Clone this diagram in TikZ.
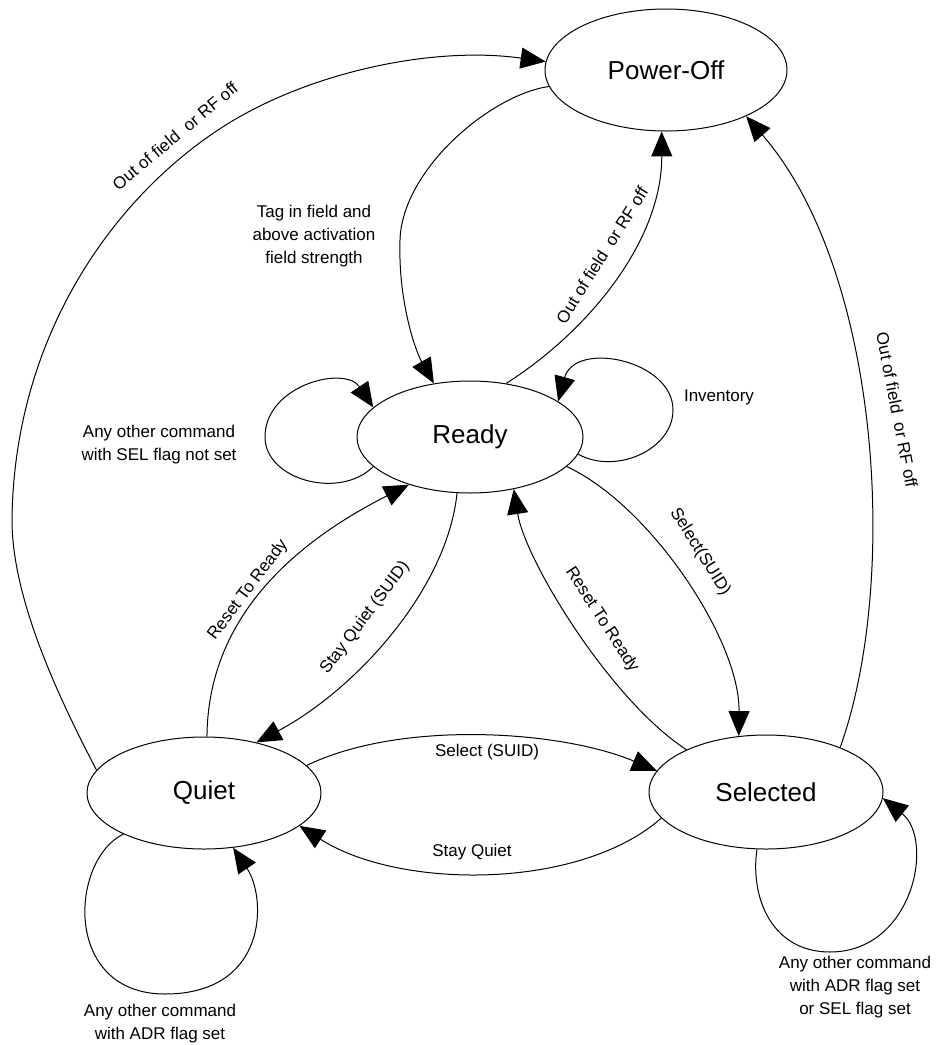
\documentclass[tikz,border=0pt]{standalone}
\usepackage{fontspec}
\setmainfont{Liberation Sans}
\usetikzlibrary{shapes.geometric,arrows.meta}
\begin{document}
\begin{tikzpicture}[x=1pt,y=-1pt,
  state/.style={draw,ellipse,line width=1pt,inner sep=0pt,font=\fontsize{26}{30}\selectfont},
  edge/.style={draw,line width=1pt,-{Triangle[length=25pt,width=21pt]}},
  lbl/.style={inner sep=0pt,align=center,font=\fontsize{17}{23}\selectfont}]
\useasboundingbox (0,0) rectangle (941,1045);

% states
\node[state,minimum width=242pt,minimum height=122pt] (poff) at (666,70) {Power-Off};
\node[state,minimum width=226pt,minimum height=112pt] (ready) at (470,437) {Ready};
\node[state,minimum width=234pt,minimum height=112pt] (quiet) at (204,793) {Quiet};
\node[state,minimum width=234pt,minimum height=114pt] (sel) at (766,792) {Selected};

% Quiet -> Power-Off (outer left arc)
\draw[edge] (quiet.168) .. controls (60,700) and (12,600) .. (12,520)
  .. controls (14,330) and (120,190) .. (229,123)
  .. controls (314,71) and (435,46) .. (poff.176);
% Power-Off -> Ready
\draw[edge] (poff.-172) .. controls (490,95) and (402,170) .. (400,240)
  .. controls (398,300) and (415,350) .. (ready.124);
% Ready -> Power-Off
\draw[edge] (ready.56) .. controls (590,330) and (662,240) .. (poff.-94);
% Ready self loops
\draw[edge] (ready.-9) .. controls (615,475) and (673,450) .. (673,410)
  .. controls (673,360) and (575,340) .. (ready.22);
\draw[edge] (ready.-163) .. controls (340,500) and (265,480) .. (265,437)
  .. controls (265,385) and (345,365) .. (ready.163);
% Quiet <-> Ready
\draw[edge] (quiet.87) .. controls (208,620) and (290,545) .. (ready.-142);
\draw[edge] (ready.-103) .. controls (447,590) and (355,690) .. (quiet.44);
% Ready <-> Selected
\draw[edge] (ready.-17) .. controls (650,505) and (740,640) .. (sel.116);
\draw[edge] (sel.152) .. controls (610,700) and (525,560) .. (ready.-50);
% Quiet <-> Selected
\draw[edge] (quiet.15) .. controls (400,720) and (560,730) .. (sel.169);
\draw[edge] (sel.-166) .. controls (580,890) and (400,890) .. (quiet.-19.5);
% Selected -> Power-Off
\draw[edge] (sel.31) .. controls (900,580) and (880,270) .. (poff.-30);
% Quiet and Selected self loops
\draw[edge] (quiet.-153) .. controls (70,860) and (62,994) .. (165,994)
  .. controls (268,994) and (267,898) .. (quiet.-62);
\draw[edge] (sel.-99) .. controls (750,898) and (772,952) .. (830,952)
  .. controls (913,952) and (935,840) .. (sel.-3);

% transition labels
\node[lbl,rotate=40] (l1) at (175,136) {Out of field\ \ or RF off};
\node[lbl] (l2) at (314,236) {Tag in field and\\above activation\\field strength};
\node[lbl,rotate=58] (l3) at (602,255) {Out of field\ \ or RF off};
\node[lbl] (l4) at (719,397) {Inventory};
\node[lbl] (l5) at (159,445) {Any other command\\with SEL flag not set};
\node[lbl,rotate=53] (l6) at (248,590) {Reset To Ready};
\node[lbl,rotate=53] (l7) at (365,618) {Stay Quiet (SUID)};
\node[lbl,rotate=-58] (l8) at (700,552) {Select(SUID)};
\node[lbl,rotate=-57] (l9) at (602,620) {Reset To Ready};
\node[lbl] (l10) at (487,752) {Select (SUID)};
\node[lbl] (l11) at (472,852) {Stay Quiet};
\node[lbl,rotate=-79] (l12) at (897,410) {Out of field\ \ or RF off};
\node[lbl] (l13) at (160,1024) {Any other command\\with ADR flag set};
\node[lbl] (l14) at (855,987) {Any other command\\with ADR flag set\\or SEL flag set};
\end{tikzpicture}
\end{document}
